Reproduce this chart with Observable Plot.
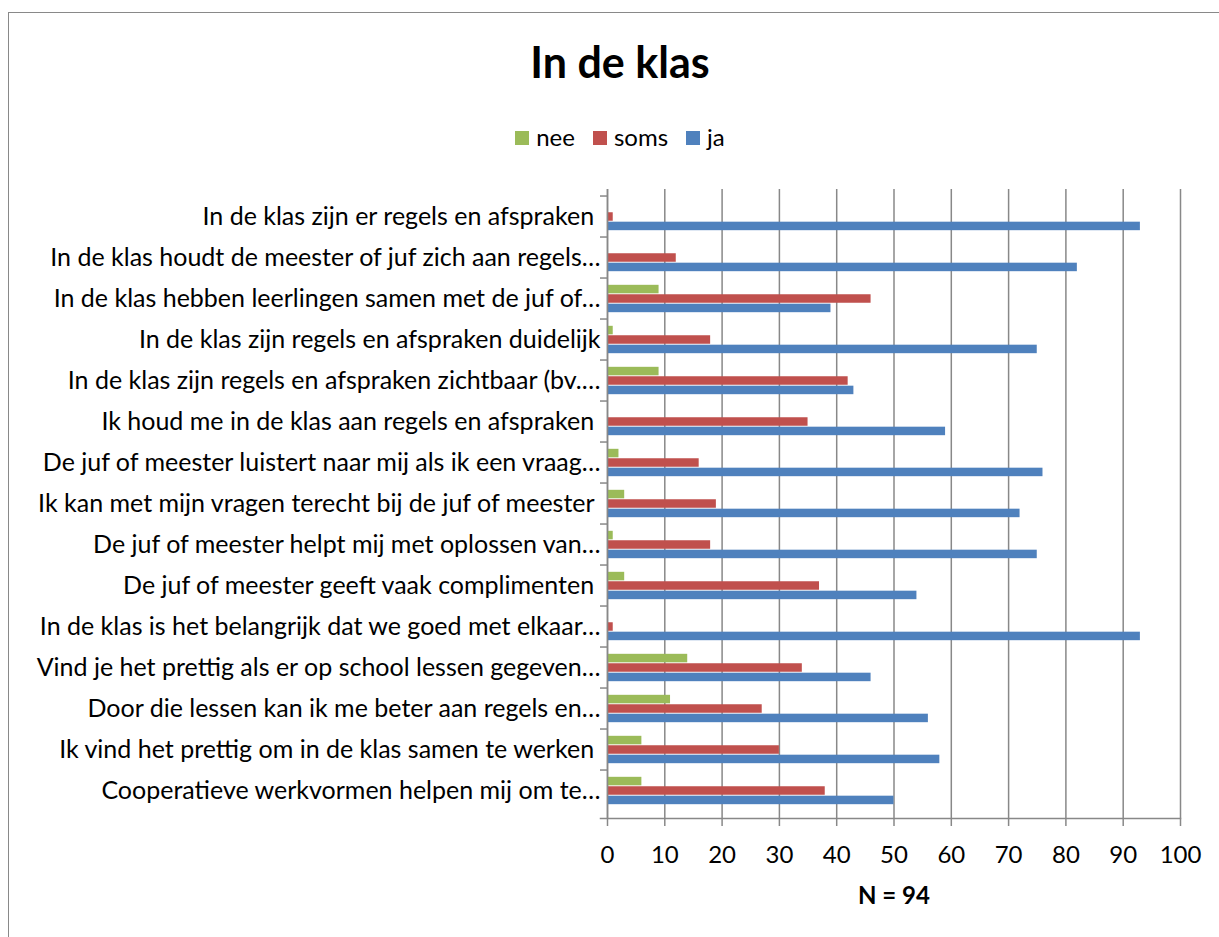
<!DOCTYPE html>
<html>
<head>
<meta charset="utf-8">
<script src="https://cdn.jsdelivr.net/npm/d3@7"></script>
<script src="https://cdn.jsdelivr.net/npm/@observablehq/plot@0.6"></script>
<style>
  html, body { margin: 0; padding: 0; width: 1219px; height: 937px; overflow: hidden; background: #fff; }
  body { position: relative; font-family: Lato, "Open Sans", sans-serif; }
  #border { position: absolute; left: 8px; top: 12px; width: 1240px; height: 1000px; border: 1.5px solid #898989; box-sizing: border-box; }
  #legend { position: absolute; left: 0; width: 1240px; top: 121px; height: 30px; display: flex; justify-content: center; align-items: center; font-size: 24px; color: #000; }
  .item { display: flex; align-items: center; margin: 0 9px; }
  .sw { width: 14px; height: 14px; margin-right: 7px; display: inline-block; position: relative; top: 2px; }
  #chart { position: absolute; left: 0; top: 0; }
</style>
</head>
<body>
<div id="border"></div>
<div id="legend"></div>
<div id="chart"></div>
<svg id="titlesvg" width="1219" height="100" style="position:absolute;left:0;top:0">
  <text id="titletext" x="620" y="78" text-anchor="middle" font-family="Lato, 'Open Sans', sans-serif" font-size="43" font-weight="bold" fill="#000">In de klas</text>
</svg>
<script>
const categories = [
  "In de klas zijn er regels en afspraken\u00a0",
  "In de klas houdt de meester of juf zich aan regels…",
  "In de klas hebben leerlingen samen met de juf of…",
  "In de klas zijn regels en afspraken duidelijk",
  "In de klas zijn regels en afspraken zichtbaar (bv.…",
  "Ik houd me in de klas aan regels en afspraken\u00a0",
  "De juf of meester luistert naar mij als ik een vraag…",
  "Ik kan met mijn vragen terecht bij de juf of meester\u00a0",
  "De juf of meester helpt mij met oplossen van…",
  "De juf of meester geeft vaak complimenten\u00a0",
  "In de klas is het belangrijk dat we goed met elkaar…",
  "Vind je het prettig als er op school lessen gegeven…",
  "Door die lessen kan ik me beter aan regels en…",
  "Ik vind het prettig om in de klas samen te werken\u00a0",
  "Cooperatieve werkvormen helpen mij om te…"
];
const series = ["nee", "soms", "ja"];
const seriesColors = ["#9BBB59", "#C0504D", "#4F81BD"];
const nee  = [0, 0, 9, 1, 9, 0, 2, 3, 1, 3, 0, 14, 11, 6, 6];
const soms = [1, 12, 46, 18, 42, 35, 16, 19, 18, 37, 1, 34, 27, 30, 38];
const ja   = [93, 82, 39, 75, 43, 59, 76, 72, 75, 54, 93, 46, 56, 58, 50];
const xTicks = [0, 10, 20, 30, 40, 50, 60, 70, 80, 90, 100];
const xLabel = "N = 94";

const rows = categories.flatMap((c, i) => [
  {cat: c, series: "nee", value: nee[i]},
  {cat: c, series: "soms", value: soms[i]},
  {cat: c, series: "ja", value: ja[i]}
]);

const width = 1219, height = 937;
const mL = 607, mR = 39, mT = 189, mB = 119;
const bw = (height - mT - mB) / categories.length;
const barH = bw * 0.225;
const gap = (bw - 3 * barH) / 2;
const grid = "#888888";
const font = "Lato, 'Open Sans', sans-serif";

const barFor = (s, k) => Plot.barX(rows.filter(d => d.series === s), {
  x: "value", y: "cat", fill: "series",
  insetTop: gap + k * barH,
  insetBottom: bw - gap - (k + 1) * barH
});

const chart = Plot.plot({
  width, height,
  marginLeft: mL, marginRight: mR, marginTop: mT, marginBottom: mB,
  style: {fontFamily: font, fontSize: "24px", color: "#000", background: "transparent"},
  x: {domain: [0, 100], label: null},
  y: {domain: categories, padding: 0, label: null},
  color: {domain: series, range: seriesColors},
  marks: [
    Plot.gridX({ticks: xTicks, stroke: grid, strokeOpacity: 1, strokeWidth: 1.5}),
    barFor("nee", 0),
    barFor("soms", 1),
    barFor("ja", 2),
    Plot.ruleX([0], {stroke: grid, strokeWidth: 1.5}),
    Plot.frame({anchor: "bottom", insetLeft: -7, stroke: grid, strokeWidth: 1.5}),
    Plot.axisX({ticks: xTicks, tickSize: 8, tickPadding: 19, stroke: grid, strokeWidth: 1.5, fontSize: 24, label: null, fill: "#000"}),
    Plot.axisY({tickSize: 7, tickFormat: () => "", dy: -bw / 2, stroke: grid, strokeWidth: 1.5, label: null}),
    Plot.axisY({tickSize: 0, tickPadding: 7, fontSize: 25, label: null, fill: "#000"}),
    Plot.text([xLabel], {text: d => d, frameAnchor: "bottom", dy: 85, fontSize: 24, fontWeight: "bold", fill: "#000"})
  ]
});
document.getElementById("chart").appendChild(chart);

const legend = document.getElementById("legend");
series.forEach((s, i) => {
  const item = document.createElement("div");
  item.className = "item";
  const sw = document.createElement("span");
  sw.className = "sw";
  sw.style.background = seriesColors[i];
  const lab = document.createElement("span");
  lab.textContent = s;
  item.appendChild(sw);
  item.appendChild(lab);
  legend.appendChild(item);
});
</script>
</body>
</html>
